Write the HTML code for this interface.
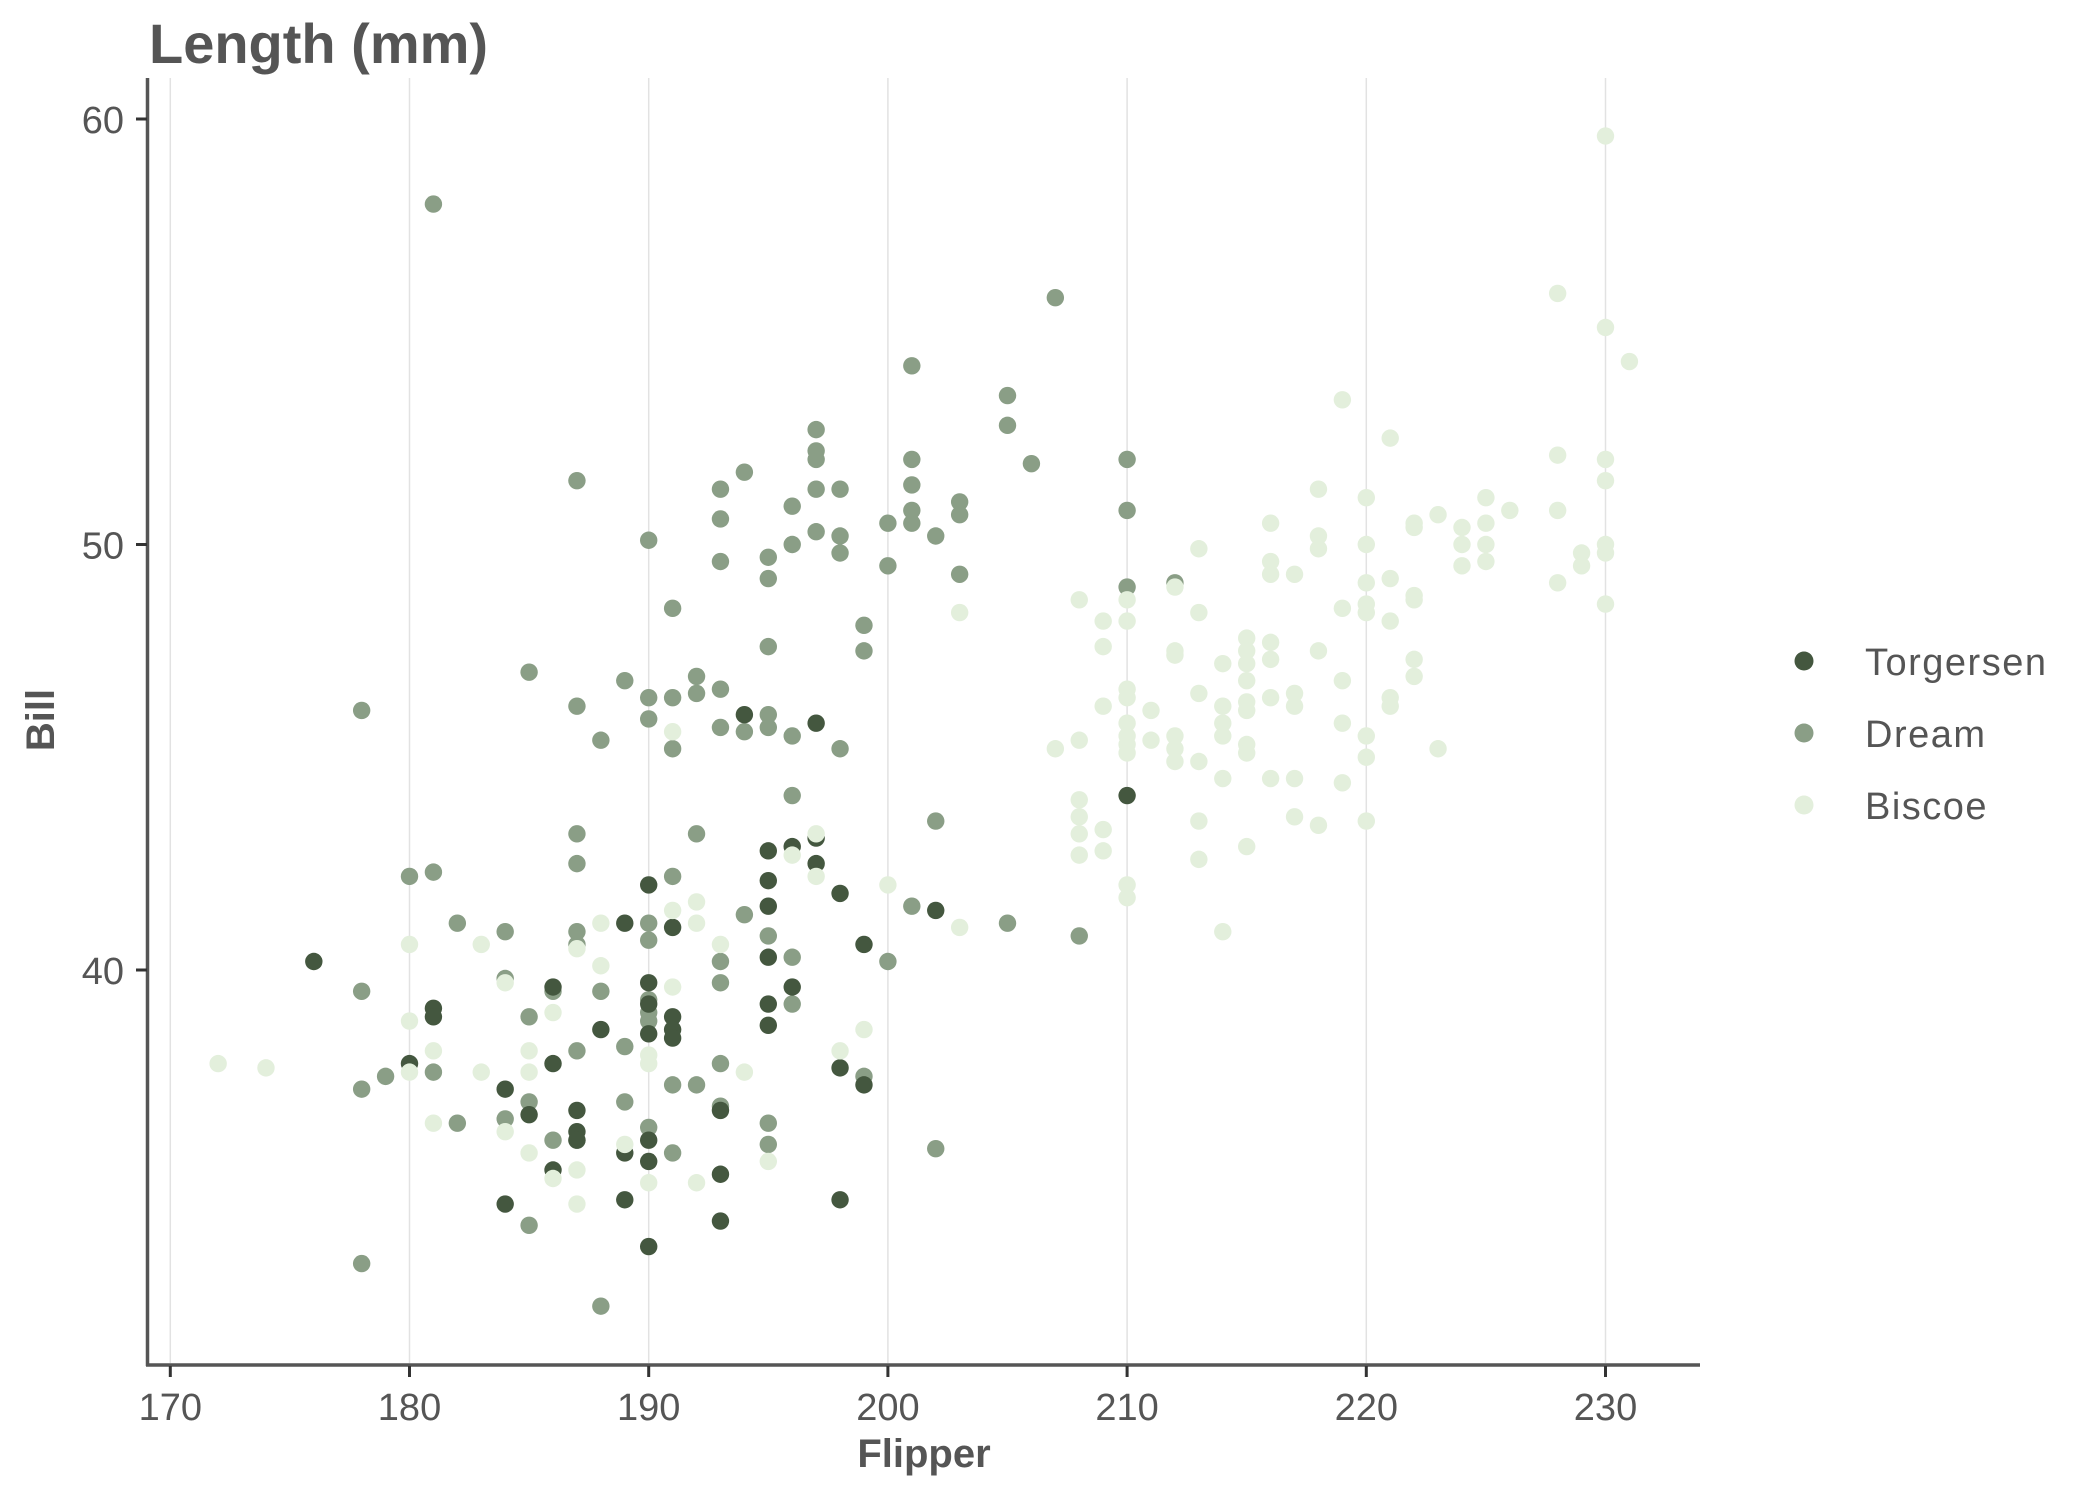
<!DOCTYPE html>
<html><head><meta charset="utf-8"><style>
html,body{margin:0;padding:0;background:#fff;}
svg{display:block;}
text{font-family:"Liberation Sans",sans-serif;fill:#555;}
</style></head><body>
<svg id="s" width="2100" height="1500" xmlns="http://www.w3.org/2000/svg">
<rect width="2100" height="1500" fill="#fff"/>
<g id="grid"></g>
<g id="pts"></g>
<line x1="147.5" y1="78" x2="147.5" y2="1366" stroke="#555" stroke-width="3.5"/>
<line x1="146" y1="1365" x2="1700" y2="1365" stroke="#555" stroke-width="3.5"/>
<g id="ticks"></g>
<text x="149" y="63" font-size="56" font-weight="bold">Length (mm)</text>
<text x="924" y="1467" font-size="40" font-weight="bold" text-anchor="middle">Flipper</text>
<text transform="translate(54,720) rotate(-90)" font-size="40" font-weight="bold" text-anchor="middle">Bill</text>
<circle cx="1804" cy="661" r="9.5" fill="#44573f"/>
<circle cx="1804" cy="733" r="9.5" fill="#8a9e86"/>
<circle cx="1804" cy="805" r="9.5" fill="#e3efdc"/>
<text x="1865" y="675" font-size="38" letter-spacing="1.5">Torgersen</text>
<text x="1865" y="747" font-size="38" letter-spacing="1.5">Dream</text>
<text x="1865" y="819" font-size="38" letter-spacing="1.5">Biscoe</text>
</svg>
<script>
var NS="http://www.w3.org/2000/svg";
function X(v){return 170.3+(v-170)*23.92;}
function Y(v){return 970-(v-40)*42.55;}
function el(p,n,a){var e=document.createElementNS(NS,n);for(var k in a)e.setAttribute(k,a[k]);p.appendChild(e);return e;}
var g=document.getElementById('grid'),t=document.getElementById('ticks'),P=document.getElementById('pts');
for(var v=170;v<=230;v+=10){var x=X(v);
el(g,'line',{x1:x,y1:78,x2:x,y2:1363,stroke:'#e2e2e2','stroke-width':1.5});
el(t,'line',{x1:x,y1:1366,x2:x,y2:1377,stroke:'#333','stroke-width':3});
var tx=el(t,'text',{x:x,y:1420,'font-size':38,'text-anchor':'middle'});tx.textContent=v;}
[40,50,60].forEach(function(v){var y=Y(v);
el(t,'line',{x1:136,y1:y,x2:147,y2:y,stroke:'#333','stroke-width':3});
var tx=el(t,'text',{x:124,y:y+14,'font-size':38,'text-anchor':'end'});tx.textContent=v;});
var B=[[172,37.8],[174,37.7],[180,40.6],[180,38.8],[180,37.6],[181,38.1],[181,36.4],[183,40.6],[183,37.6],[184,39.7],[184,36.2],[185,38.1],[185,37.6],[185,35.7],[186,39.0],[186,35.1],[187,40.5],[187,35.3],[187,34.5],[188,41.1],[188,40.1],[189,35.9],[190,38.0],[190,37.8],[190,35.0],[191,45.6],[191,41.4],[191,39.6],[192,41.6],[192,41.1],[192,35.0],[193,40.6],[194,37.6],[195,35.5],[197,43.2],[197,42.2],[196,42.7],[198,38.1],[199,38.6],[200,42.0],[203,41.0],[203,48.4],[207,45.2],[208,48.7],[208,45.4],[208,44.0],[208,43.6],[208,43.2],[208,42.7],[209,48.2],[209,47.6],[209,46.2],[209,43.3],[209,42.8],[210,48.7],[210,48.2],[210,46.6],[210,46.4],[210,45.8],[210,45.5],[210,45.3],[210,45.1],[210,42.0],[210,41.7],[211,46.1],[211,45.4],[212,49.0],[212,47.5],[212,47.4],[212,45.5],[212,45.2],[212,44.9],[213,49.9],[213,48.4],[213,46.5],[213,44.9],[213,43.5],[213,42.6],[214,47.2],[214,46.2],[214,45.8],[214,45.5],[214,44.5],[214,40.9],[215,47.8],[215,47.5],[215,47.2],[215,46.8],[215,46.3],[215,46.1],[215,45.3],[215,45.1],[215,42.9],[216,50.5],[216,49.6],[216,49.3],[216,47.7],[216,47.3],[216,46.4],[216,44.5],[217,49.3],[217,46.5],[217,46.2],[217,44.5],[217,43.6],[218,51.3],[218,50.2],[218,49.9],[218,47.5],[218,43.4],[219,53.4],[219,48.5],[219,46.8],[219,45.8],[219,44.4],[220,51.1],[220,50.0],[220,49.1],[220,48.6],[220,48.4],[220,45.5],[220,45.0],[220,43.5],[221,52.5],[221,49.2],[221,48.2],[221,46.4],[221,46.2],[222,50.5],[222,50.4],[222,48.8],[222,48.7],[222,47.3],[222,46.9],[223,50.7],[223,45.2],[224,50.4],[224,50.0],[224,49.5],[225,51.1],[225,50.5],[225,50.0],[225,49.6],[226,50.8],[228,55.9],[228,52.1],[228,50.8],[228,49.1],[229,49.8],[229,49.5],[230,59.6],[230,55.1],[230,52.0],[230,51.5],[230,50.0],[230,49.8],[230,48.6],[231,54.3]];
var D=[[178,46.1],[178,39.5],[178,37.2],[178,33.1],[179,37.5],[180,42.2],[181,58.0],[181,42.3],[181,37.6],[182,41.1],[182,36.4],[184,40.9],[184,39.8],[184,36.5],[185,47.0],[185,38.9],[185,36.9],[185,34.0],[186,39.5],[186,36.0],[187,51.5],[187,46.2],[187,43.2],[187,42.5],[187,40.9],[187,40.6],[187,38.1],[187,36.0],[188,45.4],[188,39.5],[188,32.1],[189,46.8],[189,38.2],[189,36.9],[190,50.1],[190,46.4],[190,45.9],[190,41.1],[190,40.7],[190,39.3],[190,39.0],[190,38.8],[190,36.3],[191,48.5],[191,46.4],[191,45.2],[191,42.2],[191,37.3],[191,35.7],[192,46.9],[192,46.5],[192,43.2],[192,37.3],[193,51.3],[193,50.6],[193,49.6],[193,46.6],[193,45.7],[193,40.2],[193,39.7],[193,37.8],[193,36.8],[194,51.7],[194,45.6],[194,41.3],[195,49.7],[195,49.2],[195,47.6],[195,46.0],[195,45.7],[195,40.8],[195,36.4],[195,35.9],[196,50.9],[196,45.5],[196,44.1],[196,40.3],[196,39.2],[197,52.7],[197,52.2],[197,52.0],[197,51.3],[197,50.3],[198,51.3],[198,50.2],[198,49.8],[198,45.2],[199,48.1],[199,47.5],[199,37.5],[200,50.5],[200,49.5],[200,40.2],[201,54.2],[201,52.0],[201,51.4],[201,50.8],[201,50.5],[201,41.5],[202,50.2],[202,43.5],[202,35.8],[203,51.0],[203,50.7],[203,49.3],[205,53.5],[205,52.8],[205,41.1],[206,51.9],[207,55.8],[208,40.8],[210,52.0],[210,50.8],[210,49.0],[212,49.1],[196,50.0]];
var T=[[176,40.2],[180,37.8],[181,39.1],[181,38.9],[184,34.5],[184,37.2],[185,36.6],[186,35.3],[186,37.8],[186,39.6],[187,36.7],[187,36.2],[187,36.0],[188,38.6],[189,41.1],[189,35.7],[189,34.6],[190,42.0],[190,39.7],[190,39.2],[190,38.5],[190,36.0],[190,35.5],[190,33.5],[191,41.0],[191,38.9],[191,38.6],[191,38.4],[193,36.7],[193,35.2],[193,34.1],[194,46.0],[195,42.8],[195,42.1],[195,41.5],[195,40.3],[195,39.2],[195,38.7],[196,42.9],[196,39.6],[197,45.8],[197,43.1],[197,42.5],[198,41.8],[198,37.7],[198,34.6],[199,40.6],[199,37.3],[202,41.4],[210,44.1]];
[[D,'#8a9e86'],[T,'#44573f'],[B,'#e3efdc']].forEach(function(s){s[0].forEach(function(p){el(P,'circle',{cx:X(p[0]),cy:Y(p[1]),r:8.7,fill:s[1]});});});
</script>
</body></html>
